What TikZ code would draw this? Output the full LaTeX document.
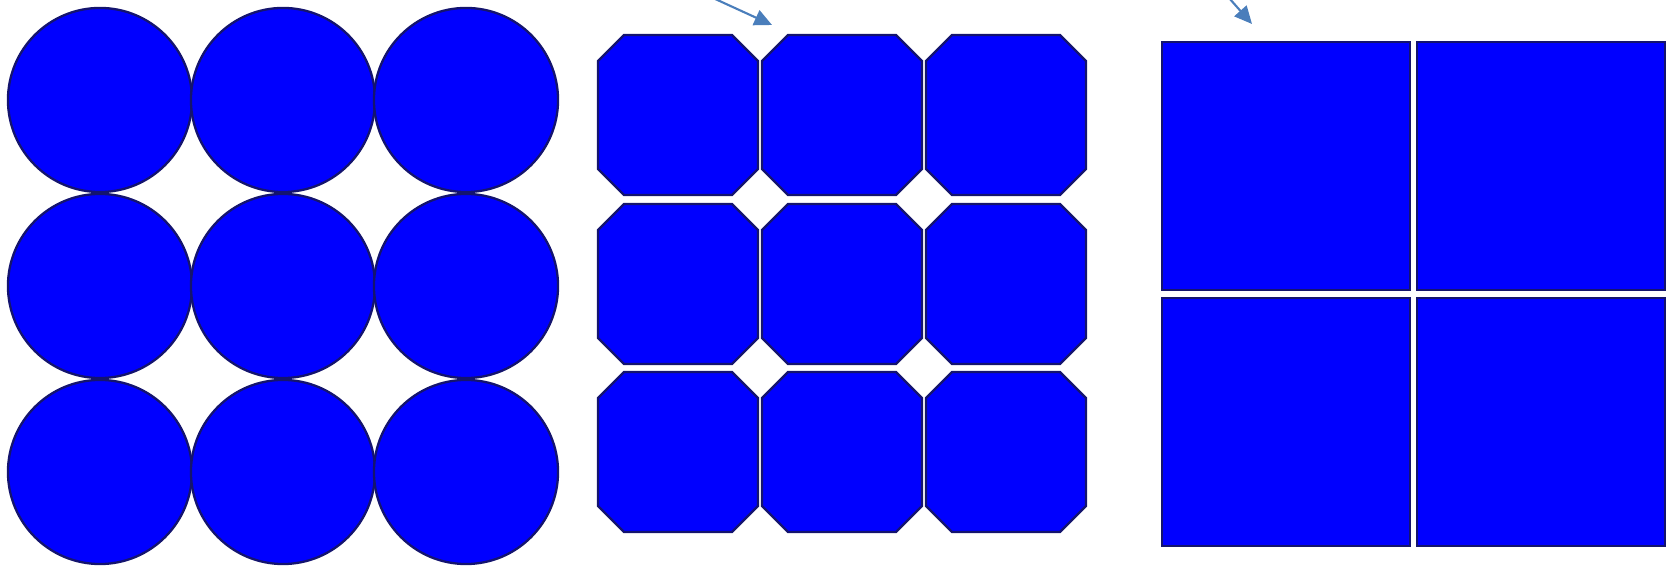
\documentclass[tikz,border=0pt]{standalone}
\usepackage{tikz}
\usetikzlibrary{arrows.meta, positioning}

\definecolor{fillblue}{RGB}{0,0,255}
\definecolor{edgenavy}{RGB}{20,20,110}
\definecolor{arrowblue}{RGB}{74,126,187}

\begin{document}
\begin{tikzpicture}[x=0.01cm, y=-0.01cm, >=Stealth,
    disc/.style={draw=edgenavy, fill=fillblue, line width=0.65pt, circle, inner sep=0pt, minimum size=1.84cm},
    octa/.style={draw=edgenavy, fill=fillblue, line width=0.65pt},
    tile/.style={draw=edgenavy, fill=fillblue, line width=0.65pt, rectangle, inner sep=0pt, minimum size=2.48cm},
    pointer/.style={line width=0.6pt, arrowblue, -{Triangle[length=5pt, width=4.6pt]}},
    octagon/.pic={\draw[octa] (-80,-54) -- (-54,-80) -- (54,-80) -- (80,-54) -- (80,54) -- (54,80) -- (-54,80) -- (-80,54) -- cycle;}]
  \useasboundingbox (0,0) rectangle (1667,568);

  % Circles
  \node[disc] (C11) at (100,100) {};
  \node[disc] (C12) at (283,100) {};
  \node[disc] (C13) at (466,100) {};
  \node[disc] (C21) at (100,286) {};
  \node[disc] (C22) at (283,286) {};
  \node[disc] (C23) at (466,286) {};
  \node[disc] (C31) at (100,472) {};
  \node[disc] (C32) at (283,472) {};
  \node[disc] (C33) at (466,472) {};

  % Octagons
  \pic (O11) at (678,115) {octagon};
  \pic (O12) at (842,115) {octagon};
  \pic (O13) at (1006,115) {octagon};
  \pic (O21) at (678,284) {octagon};
  \pic (O22) at (842,284) {octagon};
  \pic (O23) at (1006,284) {octagon};
  \pic (O31) at (678,452) {octagon};
  \pic (O32) at (842,452) {octagon};
  \pic (O33) at (1006,452) {octagon};

  % Squares
  \node[tile] (S11) at (1286,166) {};
  \node[tile] (S12) at (1541,166) {};
  \node[tile] (S21) at (1286,422) {};
  \node[tile] (S22) at (1541,422) {};

  % Pointers
  \coordinate (P1) at (713,-2);
  \coordinate (T1) at (772,25);
  \coordinate (P2) at (1229,-2);
  \coordinate (T2) at (1252,24);
  \draw[pointer] (P1) -- (T1);
  \draw[pointer] (P2) -- (T2);
\end{tikzpicture}
\end{document}
